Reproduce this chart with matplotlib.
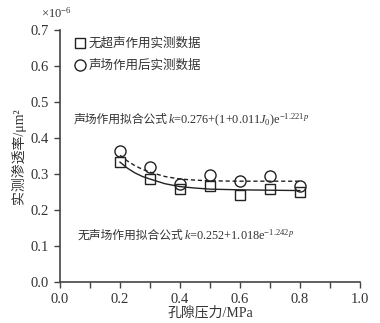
import matplotlib
matplotlib.use("Agg")
import matplotlib.pyplot as plt
from matplotlib.ticker import MultipleLocator, FormatStrFormatter

# measured permeability (x1e-6 um^2)
pressure = [0.2, 0.3, 0.4, 0.5, 0.6, 0.7, 0.8]
k_no_sound = [0.332, 0.285, 0.257, 0.267, 0.243, 0.257, 0.251]
k_sound = [0.364, 0.320, 0.272, 0.296, 0.281, 0.294, 0.267]

# fitted curves
fit_p = [0.2, 0.225, 0.25, 0.275, 0.3, 0.35, 0.4, 0.45, 0.5, 0.6, 0.7, 0.8]
fit_no_sound = [0.333, 0.316, 0.303, 0.293, 0.286, 0.273, 0.265, 0.261, 0.258, 0.256, 0.255, 0.254]
fit_sound = [0.352, 0.336, 0.323, 0.313, 0.305, 0.293, 0.286, 0.283, 0.281, 0.280, 0.280, 0.280]

labels = ["无超声作用实测数据", "声场作用后实测数据"]
fit_text_sound = ("声场作用拟合公式", r"$k$=0.276+(1+0.011$J_0$)e$^{-1.221p}$")
fit_text_none = ("无声场作用拟合公式", r"$k$=0.252+1.018e$^{-1.242p}$")

FAM = ["Liberation Serif", "Noto Sans CJK SC"]
TXT = "#333333"
plt.rcParams["font.family"] = FAM
plt.rcParams["mathtext.fontset"] = "custom"
plt.rcParams["mathtext.rm"] = "Liberation Serif"
plt.rcParams["mathtext.it"] = "Liberation Serif:italic"

fig = plt.figure(figsize=(3.8, 3.23), dpi=100)
ax = fig.add_axes([0.158, 0.127, 0.789, 0.780])

ax.plot(fit_p, fit_no_sound, "-", color="#222222", lw=1.0)
ax.plot(fit_p, fit_sound, "--", color="#222222", lw=1.0, dashes=(3, 2))
ax.plot(pressure, k_no_sound, "s", ms=7, mfc="none", mec="#222222", mew=1.0, label=labels[0])
ax.plot(pressure, k_sound, "o", ms=8, mfc="none", mec="#222222", mew=1.0, label=labels[1])

ax.set_xlim(0, 1.0)
ax.set_ylim(0, 0.7)
ax.xaxis.set_major_locator(MultipleLocator(0.2))
ax.xaxis.set_minor_locator(MultipleLocator(0.1))
ax.yaxis.set_major_locator(MultipleLocator(0.1))
ax.xaxis.set_major_formatter(FormatStrFormatter("%.1f"))
ax.yaxis.set_major_formatter(FormatStrFormatter("%.1f"))
ax.tick_params(which="both", direction="out", color="#444444", labelcolor=TXT, labelsize=10.5,
               width=1.0, length=4.5)
for s in ["top", "right"]:
    ax.spines[s].set_visible(False)
for s in ["left", "bottom"]:
    ax.spines[s].set_color("#444444")
    ax.spines[s].set_linewidth(1.2)

ax.set_xlabel("孔隙压力/MPa", fontsize=10, color=TXT, labelpad=0)
ax.set_ylabel("实测渗透率/μm²", fontsize=10, color=TXT, labelpad=3)
fig.text(0.108, 0.945, r"$\times10^{-6}$", fontsize=9, color=TXT)

leg = ax.legend(loc="upper left", bbox_to_anchor=(0.02, 1.0), frameon=False,
                handletextpad=0.2, labelspacing=0.8, handlelength=1.0, borderaxespad=0.2,
                prop={"family": FAM, "size": 9})
for t in leg.get_texts():
    t.set_color(TXT)

t1 = ax.text(0.045, 0.632, fit_text_sound[0], transform=ax.transAxes, fontsize=8.5, color=TXT,
             family="Noto Sans CJK SC", va="baseline")
ax.annotate(fit_text_sound[1], xy=(1, 0.12), xycoords=t1, fontsize=8.8, color=TXT, va="baseline")
t2 = ax.text(0.06, 0.172, fit_text_none[0], transform=ax.transAxes, fontsize=8.5, color=TXT,
             family="Noto Sans CJK SC", va="baseline")
ax.annotate(fit_text_none[1], xy=(1, 0.12), xycoords=t2, fontsize=8.8, color=TXT, va="baseline")

fig.savefig("out.png", dpi=100)
